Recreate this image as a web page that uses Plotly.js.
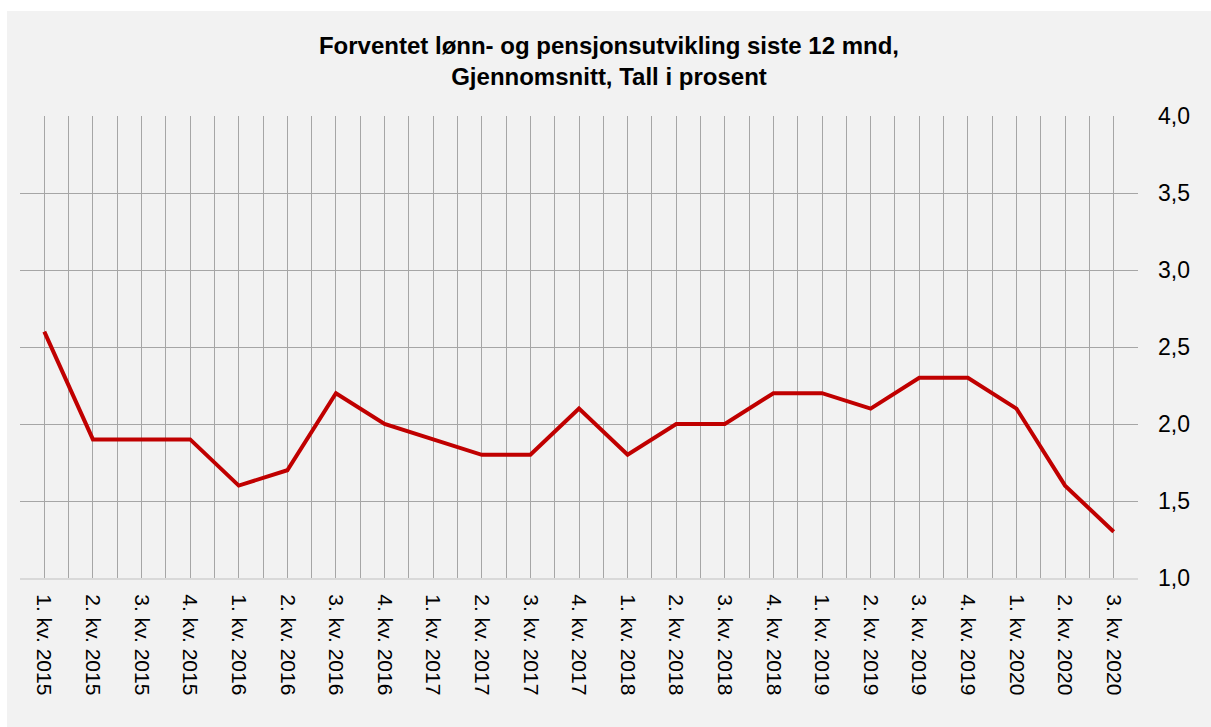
<!DOCTYPE html>
<html>
<head>
<meta charset="utf-8">
<script src="https://cdn.plot.ly/plotly-3.0.1.min.js"></script>
<style>
  html, body { margin: 0; padding: 0; background: #ffffff; }
  #chart { position: absolute; left: 7px; top: 11px; width: 1204px; height: 716px; }
</style>
</head>
<body>
<div id="chart"></div>
<script>
const categories = [
  "1. kv. 2015", "2. kv. 2015", "3. kv. 2015", "4. kv. 2015",
  "1. kv. 2016", "2. kv. 2016", "3. kv. 2016", "4. kv. 2016",
  "1. kv. 2017", "2. kv. 2017", "3. kv. 2017", "4. kv. 2017",
  "1. kv. 2018", "2. kv. 2018", "3. kv. 2018", "4. kv. 2018",
  "1. kv. 2019", "2. kv. 2019", "3. kv. 2019", "4. kv. 2019",
  "1. kv. 2020", "2. kv. 2020", "3. kv. 2020"
];
const values = [2.6, 1.9, 1.9, 1.9, 1.6, 1.7, 2.2, 2.0, 1.9, 1.8, 1.8, 2.1,
                1.8, 2.0, 2.0, 2.2, 2.2, 2.1, 2.3, 2.3, 2.1, 1.6, 1.3];
const yRange = [1, 4];
const yStep = 0.5;
const titleText = "Forventet lønn- og pensjonsutvikling siste 12 mnd,<br>Gjennomsnitt, Tall i prosent";

const gridColor = "#a6a6a6";
const font = "Liberation Sans, Arial, sans-serif";

const traces = [
  {
    x: categories, y: values, type: "scatter", mode: "lines",
    line: { color: "#c00000", width: 4 },
    xaxis: "x", yaxis: "y", hoverinfo: "x+y", showlegend: false
  },
  {
    x: categories, y: values, type: "scatter", mode: "lines",
    line: { color: "rgba(0,0,0,0)", width: 0 },
    xaxis: "x2", yaxis: "y", hoverinfo: "skip", showlegend: false
  }
];

const catRange = [-0.5, categories.length - 0.5];

const layout = {
  width: 1204, height: 716,
  paper_bgcolor: "#f2f2f2", plot_bgcolor: "#f2f2f2",
  separators: ", ",
  margin: { l: 13, r: 73, t: 105, b: 149 },
  font: { family: font, color: "#000000" },
  title: {
    text: titleText,
    font: { family: font, size: 24, color: "#000000", weight: "bold" },
    x: 0.5, xanchor: "center",
    y: 1 - 42.5 / 716, yanchor: "middle", yref: "container"
  },
  xaxis: {
    type: "category", range: catRange,
    tickson: "boundaries",
    showgrid: true, gridcolor: gridColor, gridwidth: 1,
    showline: true, linecolor: "#d9d9d9", linewidth: 2,
    ticks: "", tickangle: 90,
    ticklabelstandoff: 10,
    tickfont: { family: font, size: 21, color: "#000000" },
    zeroline: false
  },
  xaxis2: {
    type: "category", range: catRange, overlaying: "x", side: "bottom",
    showgrid: true, gridcolor: gridColor, gridwidth: 1,
    showline: false, showticklabels: false, ticks: "", zeroline: false
  },
  yaxis: {
    side: "right", range: yRange, dtick: yStep, tick0: 1,
    tickformat: ".1f",
    showgrid: true, gridcolor: gridColor, gridwidth: 1,
    showline: false, zeroline: false,
    ticks: "", ticklabelstandoff: 19,
    tickfont: { family: font, size: 23, color: "#000000" }
  }
};

Plotly.newPlot("chart", traces, layout, { displayModeBar: false, staticPlot: true });
</script>
</body>
</html>
